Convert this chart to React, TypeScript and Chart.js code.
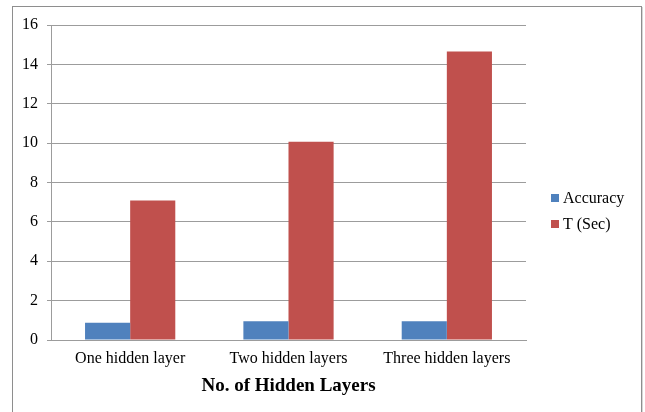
import React, { useEffect, useRef } from "react";
import { Chart, registerables } from "chart.js";

Chart.register(...registerables);

const categories = ["One hidden layer", "Two hidden layers", "Three hidden layers"];
const accuracy = [0.88, 0.95, 0.95];
const timeSec = [7.09, 10.07, 14.66];
const seriesNames = ["Accuracy", "T (Sec)"];
const seriesColors = ["#4F81BD", "#C0504D"];
const yTicks = [0, 2, 4, 6, 8, 10, 12, 14, 16];
const xTitle = "No. of Hidden Layers";

const FONT = "'Liberation Serif', 'Times New Roman', serif";
const GRID = "#9c9c9c";

// Outer frame around the whole chart object plus a white background.
const framePlugin = {
  id: "frame",
  beforeDraw(chart: any) {
    const { ctx, width, height } = chart;
    ctx.save();
    ctx.fillStyle = "#ffffff";
    ctx.fillRect(0, 0, width, height);
    ctx.strokeStyle = "#8e8e8e";
    ctx.lineWidth = 1;
    ctx.strokeRect(12.5, 6.5, 629, height + 20);
    ctx.strokeStyle = "#d6d6d6";
    ctx.beginPath();
    ctx.moveTo(642.5, 7);
    ctx.lineTo(642.5, height);
    ctx.stroke();
    ctx.restore();
  },
};

// Legend drawn to the right of the plot area.
const sideLegendPlugin = {
  id: "sideLegend",
  afterDraw(chart: any) {
    const { ctx } = chart;
    const x = 551;
    const rows = [198, 224];
    ctx.save();
    ctx.font = `16px ${FONT}`;
    ctx.textBaseline = "middle";
    ctx.textAlign = "left";
    chart.data.datasets.forEach((ds: any, i: number) => {
      const y = rows[i];
      ctx.fillStyle = ds.backgroundColor;
      ctx.fillRect(x, y - 4, 8, 8);
      ctx.fillStyle = "#000000";
      ctx.fillText(ds.label, x + 12, y + 1);
    });
    ctx.restore();
  },
};

export default function App() {
  const canvasRef = useRef<HTMLCanvasElement | null>(null);

  useEffect(() => {
    if (!canvasRef.current) return;
    const chart = new Chart(canvasRef.current, {
      type: "bar",
      data: {
        labels: categories,
        datasets: [
          {
            label: seriesNames[0],
            data: accuracy,
            backgroundColor: seriesColors[0],
            categoryPercentage: 0.57,
            barPercentage: 1,
          },
          {
            label: seriesNames[1],
            data: timeSec,
            backgroundColor: seriesColors[1],
            categoryPercentage: 0.57,
            barPercentage: 1,
          },
        ],
      },
      options: {
        responsive: false,
        animation: false,
        devicePixelRatio: 1,
        layout: { padding: { left: 0, right: 119, top: 25, bottom: 0 } },
        plugins: {
          legend: { display: false },
          tooltip: { enabled: false },
        },
        scales: {
          x: {
            grid: { display: false, drawTicks: false },
            border: { display: true, color: GRID, width: 1 },
            ticks: {
              color: "#000000",
              padding: 9,
              font: { family: FONT, size: 16 },
              maxRotation: 0,
              autoSkip: false,
            },
            title: {
              display: true,
              text: xTitle,
              color: "#000000",
              font: { family: FONT, size: 19, weight: "bold" },
              padding: { top: 0, bottom: 15 },
            },
            afterFit(scale: any) {
              scale.height = 72;
            },
          },
          y: {
            min: 0,
            max: 16,
            afterBuildTicks(scale: any) {
              scale.ticks = yTicks.map((v) => ({ value: v }));
            },
            grid: { color: GRID, tickLength: 4, drawTicks: true },
            border: { display: true, color: GRID, width: 1 },
            ticks: {
              color: "#000000",
              padding: 9,
              font: { family: FONT, size: 16 },
            },
            afterFit(scale: any) {
              scale.width = 51;
            },
          },
        },
      },
      plugins: [framePlugin, sideLegendPlugin],
    });
    return () => chart.destroy();
  }, []);

  return (
    <div style={{ position: "absolute", left: 0, top: 0, width: 645, height: 412 }}>
      <canvas ref={canvasRef} width={645} height={412} />
    </div>
  );
}
